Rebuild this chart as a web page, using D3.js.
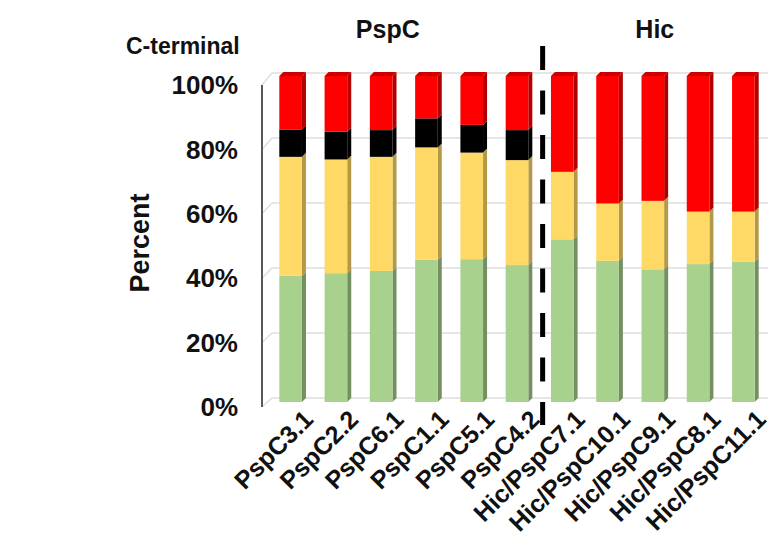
<!DOCTYPE html>
<html>
<head>
<meta charset="utf-8">
<script src="https://cdn.jsdelivr.net/npm/d3@7"></script>
<style>
  body { margin: 0; background: #fff; }
  text { font-family: "Liberation Sans", Arial, sans-serif; font-weight: bold; fill: #111; }
</style>
</head>
<body>
<div id="chart"></div>
<script>
// categories and stacked percentages (bottom -> top)
var categories = ["PspC3.1", "PspC2.2", "PspC6.1", "PspC1.1", "PspC5.1", "PspC4.2",
    "Hic/PspC7.1", "Hic/PspC10.1", "Hic/PspC9.1", "Hic/PspC8.1", "Hic/PspC11.1"];
var green  = [38.7, 39.5, 40.2, 43.6, 43.8, 42.0, 49.9, 43.3, 40.7, 42.3, 43.0];
var yellow = [36.5, 34.9, 35.0, 34.5, 32.7, 32.2, 20.7, 17.6, 21.0, 16.1, 15.4];
var black  = [ 8.4,  8.5,  8.2,  8.9,  8.5,  9.2,  0.0,  0.0,  0.0,  0.0,  0.0];
var red    = [16.4, 17.1, 16.6, 13.0, 15.0, 16.6, 29.4, 39.1, 38.3, 41.6, 41.6];
var yTicks = [0, 20, 40, 60, 80, 100];
var groups = [{name: "PspC", first: 0, last: 5}, {name: "Hic", first: 6, last: 10}];

var keys = ["green", "yellow", "black", "red"];
var front = {green: "#a9d18e", yellow: "#ffd966", black: "#000000", red: "#ff0000"};
var side  = {green: "#748f61", yellow: "#b39845", black: "#000000", red: "#b30000"};
var topc  = {green: "#8fb377", yellow: "#d9b955", black: "#1a1a1a", red: "#cc0000"};

var W = 779, H = 546;
var depth = 4;

var rows = categories.map(function(c, i) {
    return {cat: c, green: green[i], yellow: yellow[i], black: black[i], red: red[i]};
});
var series = d3.stack().keys(keys)(rows);

var x = d3.scaleBand().domain(categories).range([268, 766]).paddingInner(0.5).paddingOuter(0.25);
var y = d3.scaleLinear().domain([0, 100]).range([402, 76]);      // bar fronts
var yWall = d3.scaleLinear().domain([0, 100]).range([398, 73]);  // back wall grid
var yAxis = d3.scaleLinear().domain([0, 100]).range([407, 85]);  // front axis

var svg = d3.select("#chart").append("svg")
    .attr("width", W)
    .attr("height", H);

// gridlines on the back wall, with the side wall diagonal
var grid = svg.append("g").attr("fill", "none").attr("stroke", "#dedede").attr("stroke-width", 1.3);
yTicks.forEach(function(t) {
    grid.append("path")
        .attr("d", "M262," + yAxis(t) + "L272," + yWall(t) + "L768," + yWall(t));
});

// y axis
svg.append("line")
    .attr("x1", 262).attr("x2", 262)
    .attr("y1", yAxis(100)).attr("y2", yAxis(0))
    .attr("stroke", "#595959").attr("stroke-width", 2);

svg.append("g").selectAll("text")
    .data(yTicks)
    .enter().append("text")
    .attr("x", 238)
    .attr("y", function(d) { return yAxis(d); })
    .attr("dy", "0.35em")
    .attr("text-anchor", "end")
    .style("font-size", "26px")
    .text(function(d) { return d + "%"; });

svg.append("text")
    .attr("transform", "translate(149,243)rotate(-90)")
    .attr("text-anchor", "middle")
    .style("font-size", "27px")
    .text("Percent");

// bars
var bw = x.bandwidth();
series.forEach(function(s, si) {
    var g = svg.append("g").attr("class", "series-" + s.key);
    s.forEach(function(d, i) {
        if (d[1] - d[0] <= 0) return;
        var x0 = x(categories[i]), x1 = x0 + bw;
        var yt = y(d[1]), yb = y(d[0]);
        g.append("path")
            .attr("d", "M" + x1 + "," + yb + "L" + (x1 + depth) + "," + (yb - depth) +
                "L" + (x1 + depth) + "," + (yt - depth) + "L" + x1 + "," + yt + "Z")
            .attr("fill", side[s.key]);
        g.append("rect")
            .attr("x", x0).attr("y", yt)
            .attr("width", bw).attr("height", yb - yt)
            .attr("fill", front[s.key]);
        if (d[1] >= 99.9) {
            g.append("path")
                .attr("d", "M" + x0 + "," + yt + "L" + (x0 + depth) + "," + (yt - depth) +
                    "L" + (x1 + depth) + "," + (yt - depth) + "L" + x1 + "," + yt + "Z")
                .attr("fill", topc[s.key]);
        }
    });
});

// category labels
svg.append("g").selectAll("text")
    .data(categories)
    .enter().append("text")
    .attr("transform", function(d) {
        return "translate(" + (x(d) + bw / 2 + 24) + ",421)rotate(-45)";
    })
    .attr("text-anchor", "end")
    .style("font-size", "25px")
    .text(function(d) { return d; });

// dashed separator between groups
var sepX = (x(categories[5]) + bw + x(categories[6])) / 2 + 3;
svg.append("line")
    .attr("x1", sepX).attr("x2", sepX)
    .attr("y1", 46).attr("y2", 425)
    .attr("stroke", "#000").attr("stroke-width", 5)
    .attr("stroke-dasharray", "24,20.5");

// titles
svg.append("text")
    .attr("x", 126).attr("y", 54)
    .style("font-size", "23px")
    .text("C-terminal");

svg.selectAll("text.group")
    .data(groups)
    .enter().append("text")
    .attr("class", "group")
    .attr("x", function(d, i) {
        var c = (x(categories[d.first]) + x(categories[d.last]) + bw) / 2;
        return i === 0 ? c - 16 : c + 2;
    })
    .attr("y", 38)
    .attr("text-anchor", "middle")
    .style("font-size", "25px")
    .text(function(d) { return d.name; });
</script>
</body>
</html>
